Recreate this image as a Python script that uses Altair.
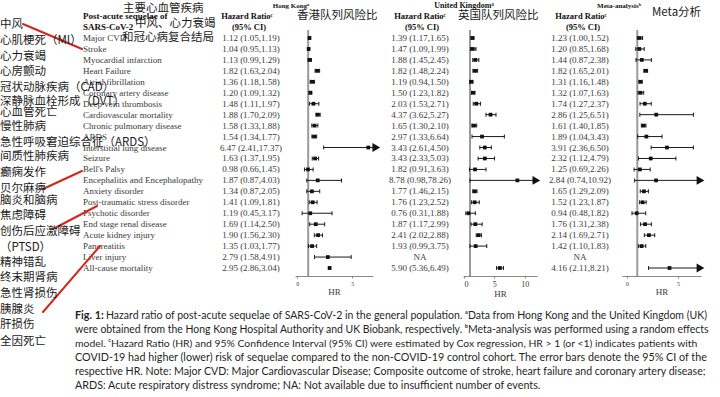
import altair as alt
import pandas as pd

# ---------------- data ----------------
outcomes = ["Major CVD", "Stroke", "Myocardial infarction", "Heart Failure", "Atrial fibrillation",
            "Coronary artery disease", "Deep vein thrombosis", "Cardiovascular mortality",
            "Chronic pulmonary disease", "ARDS", "Interstitial lung disease", "Seizure", "Bell's Palsy",
            "Encephalitis and Encephalopathy", "Anxiety disorder", "Post-traumatic stress disorder",
            "Psychotic disorder", "End stage renal disease", "Acute kidney injury", "Pancreatitis",
            "Liver injury", "All-cause mortality"]

hk_hr = [1.12, 1.04, 1.13, 1.82, 1.36, 1.20, 1.48, 1.88, 1.58, 1.54, 6.47, 1.63, 0.98, 1.87, 1.34, 1.41, 1.19, 1.69, 1.90, 1.35, 2.79, 2.95]
hk_lo = [1.05, 0.95, 0.99, 1.63, 1.18, 1.09, 1.11, 1.70, 1.33, 1.34, 2.41, 1.37, 0.66, 0.87, 0.87, 1.09, 0.45, 1.14, 1.56, 1.03, 1.58, 2.86]
hk_hi = [1.19, 1.13, 1.29, 2.04, 1.58, 1.32, 1.97, 2.09, 1.88, 1.77, 17.37, 1.95, 1.45, 4.03, 2.05, 1.81, 3.17, 2.50, 2.30, 1.77, 4.91, 3.04]

uk_hr = [1.39, 1.47, 1.88, 1.82, 1.19, 1.50, 2.03, 4.37, 1.65, 2.97, 3.43, 3.43, 1.82, 8.78, 1.77, 1.76, 0.76, 1.87, 2.41, 1.93, None, 5.90]
uk_lo = [1.17, 1.09, 1.45, 1.48, 0.94, 1.23, 1.53, 3.62, 1.30, 1.33, 2.61, 2.33, 0.91, 0.98, 1.46, 1.23, 0.31, 1.17, 2.02, 0.99, None, 5.36]
uk_hi = [1.65, 1.99, 2.45, 2.24, 1.50, 1.82, 2.71, 5.27, 2.10, 6.64, 4.50, 5.03, 3.63, 78.26, 2.15, 2.52, 1.88, 2.99, 2.88, 3.75, None, 6.49]

meta_hr = [1.23, 1.20, 1.44, 1.82, 1.31, 1.32, 1.74, 2.86, 1.61, 1.89, 3.91, 2.32, 1.25, 2.84, 1.65, 1.52, 0.94, 1.76, 2.14, 1.42, None, 4.16]
meta_lo = [1.00, 0.85, 0.87, 1.65, 1.16, 1.07, 1.27, 1.25, 1.40, 1.04, 2.36, 1.12, 0.69, 0.74, 1.29, 1.23, 0.48, 1.31, 1.69, 1.10, None, 2.11]
meta_hi = [1.52, 1.68, 2.38, 2.01, 1.48, 1.63, 2.37, 6.51, 1.85, 3.43, 6.50, 4.79, 2.26, 10.92, 2.09, 1.87, 1.82, 2.38, 2.71, 1.83, None, 8.21]

cn_left = ["中风", "心肌梗死（MI）", "心力衰竭", "心房颤动", "冠状动脉疾病（CAD）", "深静脉血栓形成（DVT）",
           "心血管死亡", "慢性肺病", "急性呼吸窘迫综合征（ARDS）", "间质性肺疾病", "癫痫发作", "贝尔麻痹",
           "脑炎和脑病", "焦虑障碍", "创伤后应激障碍", "（PTSD）", "精神错乱", "终末期肾病", "急性肾损伤",
           "胰腺炎", "肝损伤", "全因死亡"]
cn_top = ["主要心血管疾病", "中风、心力衰竭", "和冠心病复合结局", "香港队列风险比", "英国队列风险比", "Meta分析"]

caption_lines = [
    "Hazard ratio of post-acute sequelae of SARS-CoV-2 in the general population. ᵃData from Hong Kong and the United Kingdom (UK)",
    "were obtained from the Hong Kong Hospital Authority and UK Biobank, respectively. ᵇMeta-analysis was performed using a random effects",
    "model. ᶜHazard Ratio (HR) and 95% Confidence Interval (95% CI) were estimated by Cox regression, HR > 1 (or <1) indicates patients with",
    "COVID-19 had higher (lower) risk of sequelae compared to the non-COVID-19 control cohort. The error bars denote the 95% CI of the",
    "respective HR. Note: Major CVD: Major Cardiovascular Disease; Composite outcome of stroke, heart failure and coronary artery disease;",
    "ARDS: Acute respiratory distress syndrome; NA: Not available due to insufficient number of events.",
]

# ---------------- layout (pixels) ----------------
W, H = 720, 397
ROW_RANGE = [38, 268]
cn_left_y = [25, 41, 57, 72, 88, 102, 113, 127, 143, 157, 173, 189, 201, 216, 232, 248, 263, 278, 294, 310, 325, 342]
cn_top_xy = [(123, 9), (135, 24), (122, 38), (297, 16), (458, 16), (652, 13)]
red_segments = [(23, 24, 82, 49), (43, 189, 82, 171), (55, 228, 97, 206), (43, 312, 100, 246)]
cap_y = [316, 330, 344, 358, 372, 386]
cap_size = [10.5, 10.45, 10.4, 10.75, 10.6, 10.75]

SERIF = "Liberation Serif"
SANS = "Lato"
CJK = "Noto Sans CJK SC"
TXT = "#3a3a3a"


def fmt(h, l, u):
    if h is None:
        return "NA"
    return f"{h:.2f} ({l:.2f},{u:.2f})"


row_scale = alt.Scale(domain=[0, len(outcomes) - 1], range=ROW_RANGE, nice=False, zero=False)

# ---------------- row texts ----------------
label_df = pd.DataFrame({"row": range(len(outcomes)), "label": outcomes})
hr_rows = []
for cx, (hr, lo, hi) in zip([251, 420, 580], [(hk_hr, hk_lo, hk_hi), (uk_hr, uk_lo, uk_hi), (meta_hr, meta_lo, meta_hi)]):
    for i in range(len(outcomes)):
        hr_rows.append({"row": i, "cx": cx, "txt": fmt(hr[i], lo[i], hi[i])})
hr_df = pd.DataFrame(hr_rows)

labels_layer = alt.Chart(label_df).mark_text(align="left", baseline="middle", font=SERIF, fontSize=9, color=TXT).encode(
    x=alt.value(83),
    y=alt.Y("row:Q", scale=row_scale, axis=None),
    text="label:N",
)
hr_layer = alt.Chart(hr_df).mark_text(align="center", baseline="middle", font=SERIF, fontSize=9, color=TXT).encode(
    x=alt.X("cx:Q", scale=None),
    y=alt.Y("row:Q", scale=row_scale, axis=None),
    text="txt:N",
)
rows_text = alt.layer(labels_layer, hr_layer)


# ---------------- forest panels ----------------
def panel(hr, lo, hi, domain, rng, cap, ticks, label_size):
    recs = []
    for i in range(len(outcomes)):
        if hr[i] is None:
            continue
        recs.append({"row": i, "hr": hr[i], "lo": lo[i], "hi": hi[i],
                     "hi_draw": min(hi[i], cap), "arrow": hi[i] > cap})
    df = pd.DataFrame(recs)
    xs = alt.Scale(domain=domain, range=rng, nice=False, zero=False)
    ax = alt.Axis(values=ticks, orient="bottom", offset=-(H - 276), title="HR", format="d",
                  titleFont=SERIF, titleFontSize=9, titleFontWeight="normal", titleColor=TXT,
                  labelFont=SERIF, labelFontSize=label_size, labelColor=TXT,
                  domainColor="#888", tickColor="#888", tickSize=2, grid=False,
                  labelPadding=2, titlePadding=1)
    ys = alt.Y("row:Q", scale=row_scale, axis=None)
    base = alt.Chart(df)
    ref = alt.Chart(pd.DataFrame({"v": [1.0]})).mark_rule(color="#9a9a9a", strokeWidth=2).encode(
        x=alt.X("v:Q", scale=xs, axis=ax), y=alt.value(30), y2=alt.value(276))
    ci = base.mark_rule(color="#1a1a1a", strokeWidth=1).encode(
        x=alt.X("lo:Q", scale=xs, axis=ax), x2="hi_draw:Q", y=ys)
    cap_lo = base.mark_tick(orient="vertical", size=4, thickness=1, color="#1a1a1a", opacity=1).encode(
        x=alt.X("lo:Q", scale=xs, axis=ax), y=ys)
    cap_hi = base.transform_filter("!datum.arrow").mark_tick(orient="vertical", size=4, thickness=1,
                                                             color="#1a1a1a", opacity=1).encode(
        x=alt.X("hi:Q", scale=xs, axis=ax), y=ys)
    pts = base.mark_square(size=14, color="#111", opacity=1).encode(
        x=alt.X("hr:Q", scale=xs, axis=ax), y=ys)
    arr = base.transform_filter("datum.arrow").mark_point(shape="triangle-right", filled=True, size=80,
                                                          color="#111", opacity=1).encode(
        x=alt.X("hi_draw:Q", scale=xs, axis=ax), y=ys)
    return alt.layer(ref, ci, cap_lo, cap_hi, pts, arr)


hk_panel = panel(hk_hr, hk_lo, hk_hi, [-0.2, 6.9], [295, 373], 7.2, [0, 5], 6)
uk_panel = panel(uk_hr, uk_lo, uk_hi, [-0.15, 12.0], [463, 537], 11.9, [0, 5, 10], 8)
meta_panel = panel(meta_hr, meta_lo, meta_hi, [-0.5, 7.25], [622, 701], 7.2, [0, 5], 6)

# ---------------- page annotations ----------------
px = lambda f: alt.X(f, scale=None)
py = lambda f: alt.Y(f, scale=None)

cn_df = pd.DataFrame(
    [{"x": 0, "y": y, "t": t} for t, y in zip(cn_left, cn_left_y)]
    + [{"x": x, "y": y, "t": t} for t, (x, y) in zip(cn_top, cn_top_xy)]
)
cn_layer = alt.Chart(cn_df).mark_text(align="left", baseline="middle", font=CJK, fontSize=11.5, color="#1a1a1a").encode(
    x=px("x:Q"), y=py("y:Q"), text="t:N")

red_df = pd.DataFrame([{"x": a, "y": b, "x2": c, "y2": d} for a, b, c, d in red_segments])
red_layer = alt.Chart(red_df).mark_rule(color="#d3261c", strokeWidth=2, strokeCap="round").encode(
    x=px("x:Q"), y=py("y:Q"), x2="x2:Q", y2="y2:Q")

head_left = pd.DataFrame([{"x": 83, "y": 16, "t": "Post-acute sequelae of"},
                          {"x": 83, "y": 27, "t": "SARS-CoV-2"}])
head_left_layer = alt.Chart(head_left).mark_text(align="left", baseline="middle", font=SERIF, fontSize=9,
                                                 fontWeight="bold", color="#111").encode(
    x=px("x:Q"), y=py("y:Q"), text="t:N")

head_c = []
for cx in [247, 420, 581]:
    head_c.append({"x": cx, "y": 16, "t": "Hazard Ratioᶜ", "fs": 8.5})
    head_c.append({"x": cx + 2, "y": 27, "t": "(95% CI)", "fs": 8.5})
head_c += [{"x": 291, "y": 6, "t": "Hong Kongᵃ", "fs": 7},
           {"x": 464, "y": 6, "t": "United Kingdomᵃ", "fs": 8},
           {"x": 619, "y": 6, "t": "Meta-analysisᵇ", "fs": 7}]
head_c_layer = alt.Chart(pd.DataFrame(head_c)).mark_text(align="center", baseline="middle", font=SERIF,
                                                         fontWeight="bold", color="#111").encode(
    x=px("x:Q"), y=py("y:Q"), text="t:N", size=alt.Size("fs:Q", scale=None))

fig_layer = alt.Chart(pd.DataFrame([{"x": 75, "y": cap_y[0], "t": "Fig. 1:"}])).mark_text(
    align="left", baseline="middle", font=SANS, fontSize=10.75, fontWeight="bold", color="#1f1f1f").encode(
    x=px("x:Q"), y=py("y:Q"), text="t:N")
cap_df = pd.DataFrame([{"x": 106 if i == 0 else 75, "y": y, "t": t, "fs": s}
                       for i, (t, y, s) in enumerate(zip(caption_lines, cap_y, cap_size))])
cap_layer = alt.Chart(cap_df).mark_text(align="left", baseline="middle", font=SANS,
                                        color="#1f1f1f").encode(
    x=px("x:Q"), y=py("y:Q"), text="t:N", size=alt.Size("fs:Q", scale=None))

page = alt.layer(red_layer, cn_layer, head_left_layer, head_c_layer, fig_layer, cap_layer)

chart = alt.layer(rows_text, hk_panel, uk_panel, meta_panel, page).resolve_scale(
    x="independent", y="independent"
).properties(
    width=W, height=H, autosize=alt.AutoSizeParams(type="none"), padding=0, background="white"
).configure_view(strokeWidth=0)

chart.save("out.html", embed_options={"renderer": "svg", "actions": False})
